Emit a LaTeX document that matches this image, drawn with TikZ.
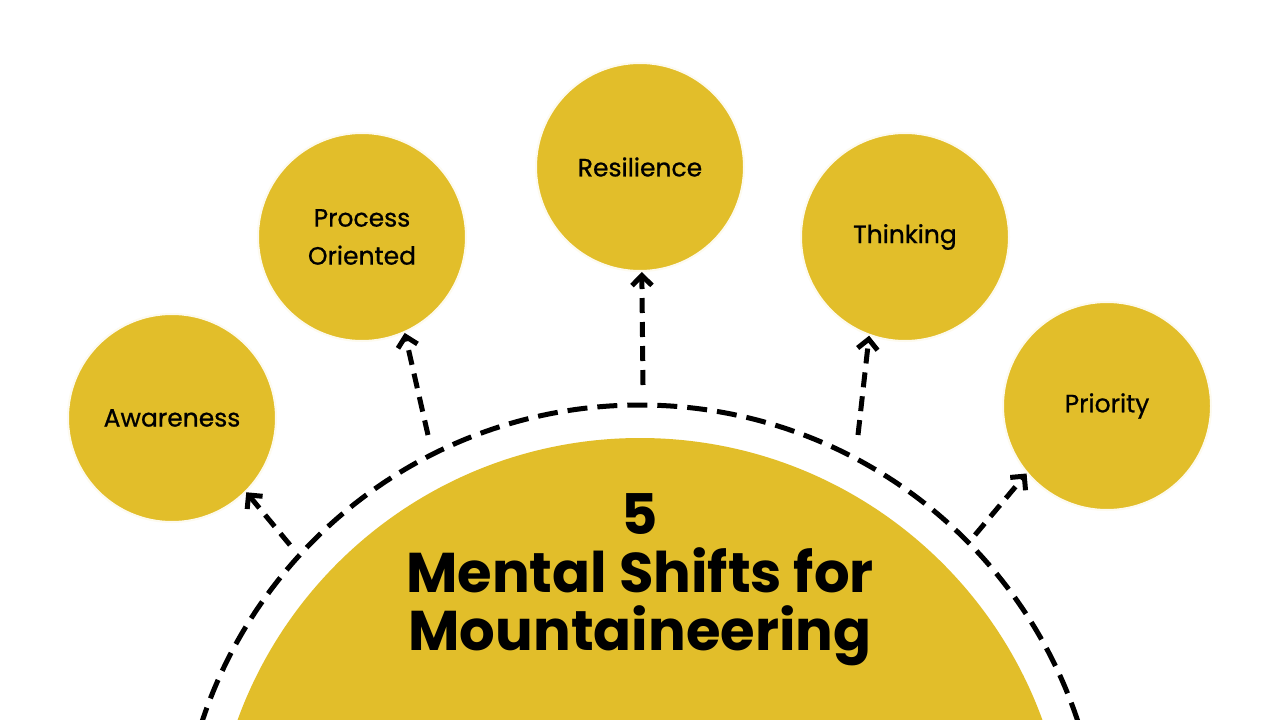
\documentclass[tikz,border=0pt]{standalone}
\usetikzlibrary{arrows.meta}
\usepackage{fontspec}
\setmainfont{Poppins}
\definecolor{gold}{HTML}{E2BE2A}
\begin{document}
\begin{tikzpicture}[x=1pt,y=-1pt,
  bub/.style={circle,fill=gold,draw=white!92!gold,line width=2pt,minimum size=208pt,inner sep=0pt,align=center,font=\fontsize{25}{38}\selectfont\medium},
  arr/.style={line width=5pt,dash pattern=on 15pt off 9pt,-{Straight Barb[length=10pt,width=20pt,line width=5pt]}}]
\newcommand\medium{\addfontfeatures{FakeBold=0.8}}
\useasboundingbox (0,0) rectangle (1280,720);
\fill[white] (0,0) rectangle (1280,720);
\begin{scope}
\clip (0,0) rectangle (1280,720);
\fill[gold] (640,866) circle (428);
\draw[line width=5pt,dash pattern=on 20pt off 10pt] (640,866) circle (461);
\end{scope}
\node[font=\fontsize{56}{58}\selectfont\bfseries,align=center] (t) at (640,580) {5\\Mental Shifts for\\Mountaineering};
\node[bub] (a) at (172,418) {Awareness};
\node[bub] (p) at (362,237) {Process\\Oriented};
\node[bub] (r) at (640,167) {Resilience};
\node[bub] (th) at (905,237) {Thinking};
\node[bub] (pr) at (1107,406) {Priority};
\coordinate (a0) at (290,545); \coordinate (p0) at (428,435); \coordinate (r0) at (643,385);
\coordinate (t0) at (858,435); \coordinate (q0) at (975,535);
\draw[arr] (a0) -- (a.-45);
\draw[arr] (p0) -- (p.-66);
\draw[arr] (r0) -- (r.-89);
\draw[arr] (t0) -- (th.-110);
\draw[arr] (q0) -- (pr.-140);
\end{tikzpicture}
\end{document}
